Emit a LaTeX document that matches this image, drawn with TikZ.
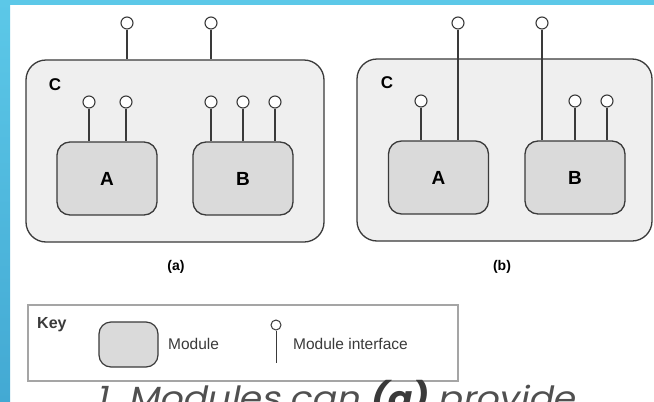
\documentclass[tikz,border=0pt]{standalone}
\usepackage{fontspec}
\setmainfont{Liberation Sans}
\newfontfamily\capfont{Poppins}[FakeSlant=0.2, FakeStretch=1.13]
\usetikzlibrary{calc}

\definecolor{barblue}{HTML}{5CC8E8}
\definecolor{barbluedark}{HTML}{43A9D3}
\definecolor{ink}{HTML}{3A3A3A}
\definecolor{outerfill}{HTML}{EFEFEF}
\definecolor{modfill}{HTML}{DADADA}
\definecolor{keyline}{HTML}{A5A5A5}
\definecolor{captext}{HTML}{505050}

\tikzset{
  outerbox/.style={draw=ink, fill=outerfill, line width=1.3pt, rounded corners=20pt,
                   minimum width=#1, minimum height=182pt, inner sep=0pt},
  modbox/.style={draw=ink, fill=modfill, line width=1.3pt, rounded corners=13pt,
                 minimum width=100pt, minimum height=73pt, inner sep=0pt,
                 font=\bfseries\fontsize{19}{19}\selectfont},
  port/.style={circle, draw=ink, fill=white, line width=1.1pt,
               minimum size=12pt, inner sep=0pt},
  wire/.style={draw=ink, line width=1.2pt},
  boxlabel/.style={font=\bfseries\fontsize{17}{17}\selectfont, text=black, inner sep=0pt},
  sublabel/.style={font=\bfseries\fontsize{14}{14}\selectfont, text=black, inner sep=0pt},
  keytext/.style={font=\fontsize{15.5}{15.5}\selectfont, text=ink, inner sep=0pt, anchor=west},
}

\begin{document}
\begin{tikzpicture}[x=1pt, y=-1pt]
  \useasboundingbox (0,0) rectangle (654,402);
  \fill[white] (0,0) rectangle (654,402);

  % slide frame bars
  \shade[top color=barblue, bottom color=barbluedark] (0,0) rectangle (10,402);
  \fill[barblue] (0,0) rectangle (654,5);

  % ---------------- (a) ----------------
  \node[outerbox=298pt] (Ca) at (175,151) {};
  \node[boxlabel] at (55,85) {C};
  \node[modbox] (Aa) at (107,178.5) {A};
  \node[modbox] (Ba) at (243,178.5) {B};

  \node[port] (ca1) at (127,23) {};
  \node[port] (ca2) at (211,23) {};
  \draw[wire] (ca1.south) -- (ca1.south |- Ca.north);
  \draw[wire] (ca2.south) -- (ca2.south |- Ca.north);

  \node[port] (aa1) at (89,102) {};
  \node[port] (aa2) at (126,102) {};
  \draw[wire] (aa1.south) -- (aa1.south |- Aa.north);
  \draw[wire] (aa2.south) -- (aa2.south |- Aa.north);

  \node[port] (ba1) at (211,102) {};
  \node[port] (ba2) at (243,102) {};
  \node[port] (ba3) at (275,102) {};
  \draw[wire] (ba1.south) -- (ba1.south |- Ba.north);
  \draw[wire] (ba2.south) -- (ba2.south |- Ba.north);
  \draw[wire] (ba3.south) -- (ba3.south |- Ba.north);

  \node[sublabel] (capa) at (176,267) {(a)};

  % ---------------- (b) ----------------
  \node[outerbox=295pt] (Cb) at (504.5,150) {};
  \node[boxlabel] at (387,83) {C};
  \node[modbox] (Ab) at (438.5,177.5) {A};
  \node[modbox] (Bb) at (575,177.5) {B};

  \node[port] (cb1) at (458,23) {};
  \node[port] (cb2) at (542,23) {};
  \draw[wire] (cb1.south) -- (cb1.south |- Ab.north);
  \draw[wire] (cb2.south) -- (cb2.south |- Bb.north);

  \node[port] (ab1) at (421,101) {};
  \draw[wire] (ab1.south) -- (ab1.south |- Ab.north);

  \node[port] (bb1) at (575,101) {};
  \node[port] (bb2) at (607,101) {};
  \draw[wire] (bb1.south) -- (bb1.south |- Bb.north);
  \draw[wire] (bb2.south) -- (bb2.south |- Bb.north);

  \node[sublabel] (capb) at (502,267) {(b)};

  % ---------------- key ----------------
  \node[draw=keyline, line width=1.5pt, minimum width=430pt, minimum height=76pt,
        inner sep=0pt] (key) at (243,343) {};
  \node[boxlabel, anchor=west, font=\bfseries\fontsize{16}{16}\selectfont, text=ink]
       (keyword) at (37,325) {Key};
  \node[draw=ink, fill=modfill, line width=1.2pt, rounded corners=12pt,
        minimum width=59pt, minimum height=45pt, inner sep=0pt] (keymod) at (128.5,344.5) {};
  \node[keytext] (keymodtxt) at (168,344) {Module};
  \node[circle, draw=ink, fill=white, line width=1pt, minimum size=10pt, inner sep=0pt]
       (keyport) at (276,325) {};
  \coordinate (keyportend) at (276,363);
  \draw[wire, line width=1pt] (keyport.south) -- (keyportend);
  \node[keytext] (keyporttxt) at (293,344) {Module interface};

  % ---------------- caption ----------------
  \begin{scope}
    \clip (10,5) rectangle (654,402);
    \node[anchor=base west, inner sep=0pt, text=captext,
          font=\capfont\fontsize{32}{32}\selectfont] (caption) at (96,409)
      {1. Modules can {\bfseries\color{ink}(a)} provide};
  \end{scope}
\end{tikzpicture}
\end{document}
